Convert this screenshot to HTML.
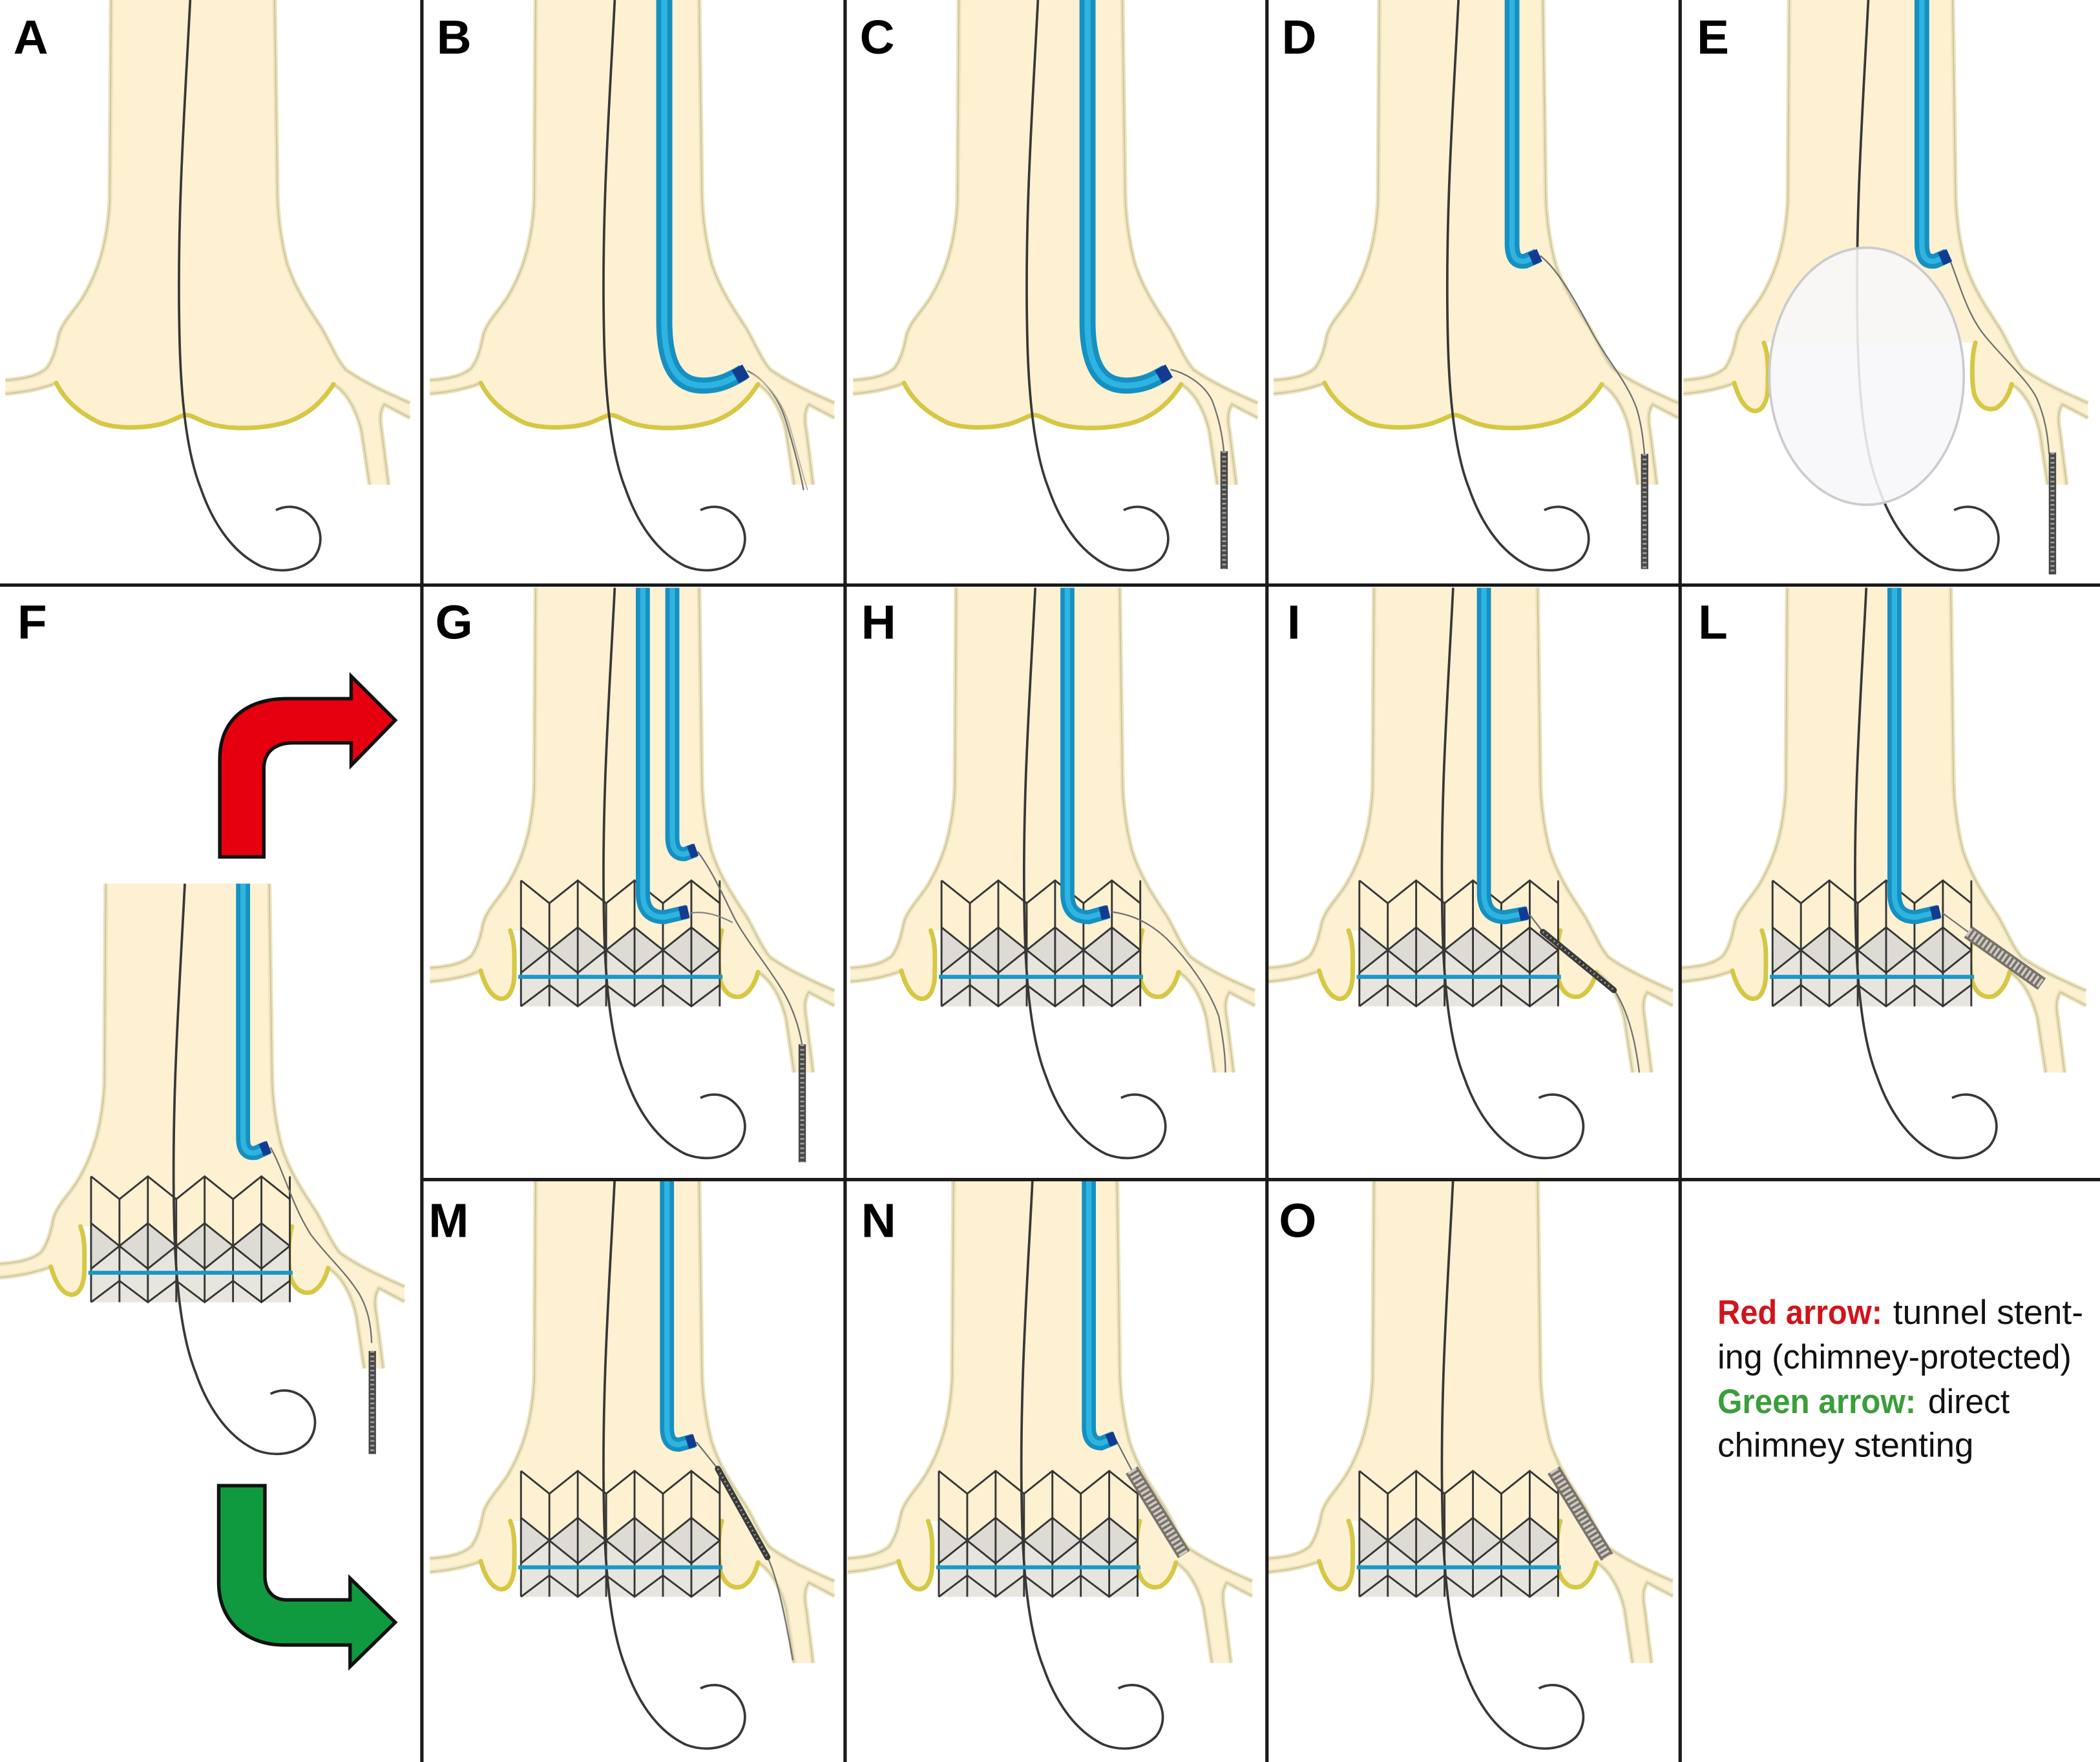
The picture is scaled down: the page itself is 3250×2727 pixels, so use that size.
<!DOCTYPE html>
<html><head><meta charset="utf-8">
<style>
html,body{margin:0;padding:0;background:#fff;}
svg{display:block;}
</style></head>
<body>
<svg xmlns="http://www.w3.org/2000/svg" width="3250" height="2727" viewBox="0 0 1568 1316" preserveAspectRatio="none">
<defs>
  <path id="vfull" d="M83 0 L82 150 C80 185 72 205 62 222 C55 233 47 240 44 250 C42 260 40 268 35 275 C28 281 18 283 4 284 L4 294 C18 293 32 290 42 286 C48 298 58 308 75 316 C90 321 115 320 128 314 C133 312 136 310 139 310 C143 310 147 313 155 316 C170 321 195 321 215 315 C232 309 242 298 249 287 C258 292 266 305 270 322 L276 362 L290 362 L285 322 C283 312 284 306 287 302 L306 312 L306 301 C290 294 272 286 258 276 C251 268 246 255 240 245 C230 230 220 215 214 196 C210 180 207 160 207 140 L205 0 Z"/>
  <path id="vlobe" d="M83 0 L82 150 C80 185 72 205 62 222 C55 233 47 240 44 250 C42 260 40 268 35 275 C28 281 18 283 4 284 L4 294 C18 293 32 290 42 286 C45 297 50 306 57 307 C64 307 67 298 67 288 C67 278 68 266 64 256 L222 256 C219 266 219 284 221 294 C224 303 230 307 237 305 C243 302 247 295 249 287 C258 292 266 305 270 322 L276 362 L290 362 L285 322 C283 312 284 306 287 302 L306 312 L306 301 C290 294 272 286 258 276 C251 268 246 255 240 245 C230 230 220 215 214 196 C210 180 207 160 207 140 L205 0 Z"/>
  <path id="walls" d="M83 0 L82 150 C80 185 72 205 62 222 C55 233 47 240 44 250 C42 260 40 268 35 275 C28 281 18 283 4 284 M4 294 C18 293 32 290 42 286 M249 287 C258 292 266 305 270 322 L276 362 M290 362 L285 322 C283 312 284 306 287 302 L306 312 M306 301 C290 294 272 286 258 276 C251 268 246 255 240 245 C230 230 220 215 214 196 C210 180 207 160 207 140 L205 0"/>
  <path id="yfull" d="M42 286 C48 298 58 308 75 316 C90 321 115 320 128 314 C133 312 136 310 139 310 C143 310 147 313 155 316 C170 321 195 321 215 315 C232 309 242 298 249 287"/>
  <path id="ylobes" d="M42 286 C45 297 50 306 57 307 C64 307 67 298 67 288 C67 278 68 266 64 256 M222 256 C219 266 219 284 221 294 C224 303 230 307 237 305 C243 302 247 295 249 287"/>
  <path id="gw" d="M142 0 C138 80 132 160 134 250 C135 300 140 340 150 365 C158 388 172 412 195 423 C208 428 224 427 234 417 C243 406 240 390 228 382 C220 377 212 378 206 381"/>

  <g id="vesFull">
    <use href="#vfull" fill="#fdf1d2"/>
    <use href="#walls" fill="none" stroke="#ede4bb" stroke-width="3.5"/>
    <use href="#walls" fill="none" stroke="#cdc6a6" stroke-width="1"/>
    <use href="#yfull" fill="none" stroke="#d6c744" stroke-width="3.4" stroke-linecap="round"/>
  </g>
  <g id="vesLobe">
    <use href="#vlobe" fill="#fdf1d2"/>
    <use href="#walls" fill="none" stroke="#ede4bb" stroke-width="3.5"/>
    <use href="#walls" fill="none" stroke="#cdc6a6" stroke-width="1"/>
    <use href="#ylobes" fill="none" stroke="#d6c744" stroke-width="3.4" stroke-linecap="round"/>
  </g>
  <g id="gwU"><use href="#gw" fill="none" stroke="#383838" stroke-width="1.8"/></g>

  <g id="stentFill">
    <rect x="72" y="218.6" width="148.4" height="94" fill="#fdf1d2"/>
    <rect x="72" y="270.6" width="148.4" height="42" fill="#e8e5df"/>
    <path d="M72 253.6 L93.2 270.6 L72 287.6Z M114.4 253.6 L135.6 270.6 L114.4 287.6 L93.2 270.6Z M156.8 253.6 L178 270.6 L156.8 287.6 L135.6 270.6Z M199.2 253.6 L220.4 270.6 L199.2 287.6 L178 270.6Z" fill="#dedbd5"/>
  </g>
  <g id="stentLines">
    <g fill="none" stroke="#363636" stroke-width="1.4">
      <path d="M72 218.6 L72 312.6 M93.2 235.6 L93.2 312.6 M114.4 218.6 L114.4 312.6 M135.6 235.6 L135.6 312.6 M156.8 218.6 L156.8 312.6 M178 235.6 L178 312.6 M199.2 218.6 L199.2 312.6 M220.4 218.6 L220.4 312.6"/>
      <path d="M72 218.6 L93.2 235.6 L114.4 218.6 L135.6 235.6 L156.8 218.6 L178 235.6 L199.2 218.6 L220.4 235.6"/>
      <path d="M72 253.6 L114.4 287.6 L156.8 253.6 L199.2 287.6 L220.4 270.6"/>
      <path d="M72 287.6 L114.4 253.6 L156.8 287.6 L199.2 253.6 L220.4 270.6"/>
      <path d="M72 312.6 L93.2 296.6 L114.4 312.6 L135.6 296.6 L156.8 312.6 L178 296.6 L199.2 312.6 L220.4 296.6"/>
    </g>
    <path d="M70 290.6 L222.5 290.6" stroke="#1a98c6" stroke-width="3"/>
  </g>

  <path id="cLong" d="M179 0 L179 240 C179 272 188 288 208 288 C220 288 228 284 238 278"/>
  <path id="cShort" d="M182 0 L182 182 C182 192 185 196 192 195 L201 191"/>
  <path id="cG1" d="M163 0 L163 228 C163 241 169 246 179 246 L196 242"/>
  <path id="cG2" d="M185 0 L185 186 C185 195 188 199 194 199 L202 196"/>
  <path id="cH" d="M166 0 L166 228 C166 241 172 246 182 246 L196 242"/>
  <path id="cI" d="M165 0 L165 228 C165 241 171 246 181 246 L197 243"/>
  <path id="cM" d="M181 0 L181 186 C181 195 184 199 190 199 L201 196"/>
  <path id="cN" d="M184 0 L184 186 C184 194 187 198 193 198 L203 194"/>
  <path id="cF" d="M185.5 0 L185.5 190 C185.5 199 189 202 195 201 L204 197"/>

  <clipPath id="cA"><rect x="0" y="0" width="315" height="437"/></clipPath>
  <clipPath id="cB"><rect x="315" y="0" width="316" height="437"/></clipPath>
  <clipPath id="cC"><rect x="631" y="0" width="315" height="437"/></clipPath>
  <clipPath id="cD"><rect x="946" y="0" width="308.5" height="437"/></clipPath>
  <clipPath id="cE"><rect x="1254.5" y="0" width="313.5" height="437"/></clipPath>
  <clipPath id="cF"><rect x="0" y="665" width="315" height="651"/></clipPath>
  <clipPath id="cG"><rect x="315" y="437" width="316" height="444"/></clipPath>
  <clipPath id="cH"><rect x="631" y="437" width="315" height="444"/></clipPath>
  <clipPath id="cI"><rect x="946" y="437" width="308.5" height="444"/></clipPath>
  <clipPath id="cL"><rect x="1254.5" y="437" width="313.5" height="444"/></clipPath>
  <clipPath id="cM"><rect x="315" y="881" width="316" height="435"/></clipPath>
  <clipPath id="cN"><rect x="631" y="881" width="315" height="435"/></clipPath>
  <clipPath id="cO"><rect x="946" y="881" width="308.5" height="435"/></clipPath>
</defs>

<rect x="0" y="0" width="1568" height="1316" fill="#ffffff"/>

<!-- A -->
<g clip-path="url(#cA)"><g transform="translate(0,0)">
  <use href="#vesFull"/>
  <use href="#gwU"/>
</g></g>

<!-- B -->
<g clip-path="url(#cB)"><g transform="translate(317,0)">
  <use href="#vesFull"/>
  <use href="#gwU"/>
  <path d="M241 277 C252 282 264 295 270 315 C276 335 280 350 283 366" fill="none" stroke="#707070" stroke-width="1.1"/>
  <path d="M244 279 C255 285 266 298 272 316 C277 333 281 350 286 366" fill="none" stroke="#b8b2a0" stroke-width="0.9"/>
  <use href="#cLong" fill="none" stroke="#1590c0" stroke-width="12"/>
  <use href="#cLong" fill="none" stroke="#2fb4e1" stroke-width="4.5"/>
  <path d="M232 281.5 L240 277" stroke="#123c90" stroke-width="11"/>
</g></g>

<!-- C -->
<g clip-path="url(#cC)"><g transform="translate(633,0)">
  <use href="#vesFull"/>
  <use href="#gwU"/>
  <path d="M241 276 C250 278 265 285 272 299 C277 312 280 325 281 340" fill="none" stroke="#707070" stroke-width="1.1"/>
  <path d="M281 337 L281 425" stroke="#484848" stroke-width="5.5"/>
  <path d="M281 337 L281 425" stroke="#9e9e9e" stroke-width="3" stroke-dasharray="1.3 2.2"/>
  <use href="#cLong" fill="none" stroke="#1590c0" stroke-width="12"/>
  <use href="#cLong" fill="none" stroke="#2fb4e1" stroke-width="4.5"/>
  <path d="M232 281.5 L240 277" stroke="#123c90" stroke-width="11"/>
</g></g>

<!-- D -->
<g clip-path="url(#cD)"><g transform="translate(947,0)">
  <use href="#vesFull"/>
  <use href="#gwU"/>
  <path d="M203 191 C215 200 228 222 240 245 C252 268 268 285 275 305 C279 318 280 330 281 340" fill="none" stroke="#707070" stroke-width="1.1"/>
  <path d="M281 339 L281 425" stroke="#484848" stroke-width="5.5"/>
  <path d="M281 339 L281 425" stroke="#9e9e9e" stroke-width="3" stroke-dasharray="1.3 2.2"/>
  <use href="#cShort" fill="none" stroke="#1590c0" stroke-width="11"/>
  <use href="#cShort" fill="none" stroke="#2fb4e1" stroke-width="4"/>
  <path d="M196 193.5 L202.5 190.6" stroke="#123c90" stroke-width="10"/>
</g></g>

<!-- E -->
<g clip-path="url(#cE)"><g transform="translate(1253,0)">
  <use href="#vesLobe"/>
  <use href="#gwU"/>
  <ellipse cx="140.7" cy="281" rx="72.6" ry="96" fill="#f7f7f9" fill-opacity="0.88" stroke="#cbcbcf" stroke-width="1.8"/>
  <path d="M202 192 C208 205 215 235 230 252 C245 270 262 285 268 298 C274 312 276 325 277 339" fill="none" stroke="#707070" stroke-width="1.1"/>
  <path d="M279.5 338 L279.5 429" stroke="#484848" stroke-width="5.5"/>
  <path d="M279.5 338 L279.5 429" stroke="#9e9e9e" stroke-width="3" stroke-dasharray="1.3 2.2"/>
  <use href="#cShort" fill="none" stroke="#1590c0" stroke-width="11"/>
  <use href="#cShort" fill="none" stroke="#2fb4e1" stroke-width="4"/>
  <path d="M196 193.5 L202.5 190.6" stroke="#123c90" stroke-width="10"/>
</g></g>

<!-- F -->
<g clip-path="url(#cF)"><g transform="translate(-4,660)">
  <use href="#vesLobe"/>
  <use href="#stentFill"/>
  <use href="#gwU"/>
  <use href="#stentLines"/>
  <path d="M206 197 C216 215 222 240 236 262 C248 278 262 290 272 306 C279 318 281 330 281.5 343" fill="none" stroke="#707070" stroke-width="1.1"/>
  <path d="M282 349 L282 426" stroke="#484848" stroke-width="5.5"/>
  <path d="M282 349 L282 426" stroke="#9e9e9e" stroke-width="3" stroke-dasharray="1.3 2.2"/>
  <use href="#cF" fill="none" stroke="#1590c0" stroke-width="10.5"/>
  <use href="#cF" fill="none" stroke="#2fb4e1" stroke-width="4"/>
  <path d="M199 199 L205 196.6" stroke="#123c90" stroke-width="9.5"/>
</g></g>

<!-- G -->
<g clip-path="url(#cG)"><g transform="translate(317,439)">
  <use href="#vesLobe"/>
  <use href="#stentFill"/>
  <use href="#gwU"/>
  <use href="#stentLines"/>
  <path d="M204 197 C215 212 222 228 232 248 C242 266 256 282 268 302 C276 316 280 330 282 342" fill="none" stroke="#707070" stroke-width="1.1"/>
  <path d="M198 243 C210 241 220 245 230 250" fill="none" stroke="#808080" stroke-width="1"/>
  <path d="M282 341 L282 429" stroke="#484848" stroke-width="5.5"/>
  <path d="M282 341 L282 429" stroke="#9e9e9e" stroke-width="3" stroke-dasharray="1.3 2.2"/>
  <use href="#cG1" fill="none" stroke="#1590c0" stroke-width="10.5"/>
  <use href="#cG1" fill="none" stroke="#2fb4e1" stroke-width="4"/>
  <path d="M190.5 243.3 L197 241.8" stroke="#123c90" stroke-width="9.5"/>
  <use href="#cG2" fill="none" stroke="#1590c0" stroke-width="10.5"/>
  <use href="#cG2" fill="none" stroke="#2fb4e1" stroke-width="4"/>
  <path d="M197.5 197.6 L203 195.6" stroke="#123c90" stroke-width="9.5"/>
</g></g>

<!-- H -->
<g clip-path="url(#cH)"><g transform="translate(631,439)">
  <use href="#vesLobe"/>
  <use href="#stentFill"/>
  <use href="#gwU"/>
  <use href="#stentLines"/>
  <path d="M199 242 C212 244 225 248 240 262 C256 278 272 300 279 320 C282 335 284 350 284 362" fill="none" stroke="#707070" stroke-width="1.1"/>
  <use href="#cH" fill="none" stroke="#1590c0" stroke-width="10.5"/>
  <use href="#cH" fill="none" stroke="#2fb4e1" stroke-width="4"/>
  <path d="M190.5 243.3 L197 241.8" stroke="#123c90" stroke-width="9.5"/>
</g></g>

<!-- I -->
<g clip-path="url(#cI)"><g transform="translate(943,439)">
  <use href="#vesLobe"/>
  <use href="#stentFill"/>
  <use href="#gwU"/>
  <use href="#stentLines"/>
  <path d="M199 244 L209 257" fill="none" stroke="#707070" stroke-width="1.1"/>
  <path d="M262 300 C270 312 277 330 281 362" fill="none" stroke="#707070" stroke-width="1.1"/>
  <path d="M209 257 L262 300.5" stroke="#3a3a3a" stroke-width="4.5" stroke-linecap="round"/>
  <path d="M209 257 L262 300.5" stroke="#9a9a9a" stroke-width="1.6" stroke-dasharray="1 2.5"/>
  <use href="#cI" fill="none" stroke="#1590c0" stroke-width="10.5"/>
  <use href="#cI" fill="none" stroke="#2fb4e1" stroke-width="4"/>
  <path d="M191.5 244.3 L198 242.8" stroke="#123c90" stroke-width="9.5"/>
</g></g>

<!-- L -->
<g clip-path="url(#cL)"><g transform="translate(1251.5,439)">
  <use href="#vesLobe"/>
  <use href="#stentFill"/>
  <use href="#gwU"/>
  <use href="#stentLines"/>
  <path d="M199 243 L218 257" fill="none" stroke="#707070" stroke-width="1.1"/>
  <path d="M218 257 L273 296" stroke="#77736c" stroke-width="10.5"/>
  <path d="M218 257 L273 296" stroke="#cfcbc2" stroke-width="7" stroke-dasharray="1.8 1.8"/>
  <use href="#cG1" fill="none" stroke="#1590c0" stroke-width="10.5"/>
  <use href="#cG1" fill="none" stroke="#2fb4e1" stroke-width="4"/>
  <path d="M190.5 243.3 L197 241.8" stroke="#123c90" stroke-width="9.5"/>
</g></g>

<!-- M -->
<g clip-path="url(#cM)"><g transform="translate(317,880)">
  <use href="#vesLobe"/>
  <use href="#stentFill"/>
  <use href="#gwU"/>
  <use href="#stentLines"/>
  <path d="M203 197 L219 217" fill="none" stroke="#707070" stroke-width="1.1"/>
  <path d="M256 283 C262 295 268 320 275 360" fill="none" stroke="#707070" stroke-width="1.1"/>
  <path d="M219 217 L256 283" stroke="#3a3a3a" stroke-width="4.5" stroke-linecap="round"/>
  <path d="M219 217 L256 283" stroke="#9a9a9a" stroke-width="1.6" stroke-dasharray="1 2.5"/>
  <use href="#cM" fill="none" stroke="#1590c0" stroke-width="10.5"/>
  <use href="#cM" fill="none" stroke="#2fb4e1" stroke-width="4"/>
  <path d="M196 197.6 L202 195.6" stroke="#123c90" stroke-width="9.5"/>
</g></g>

<!-- N -->
<g clip-path="url(#cN)"><g transform="translate(629,880)">
  <use href="#vesLobe"/>
  <use href="#stentFill"/>
  <use href="#gwU"/>
  <use href="#stentLines"/>
  <path d="M204 195 L216 218" fill="none" stroke="#707070" stroke-width="1.1"/>
  <path d="M216 218 L255 281" stroke="#77736c" stroke-width="10.5"/>
  <path d="M216 218 L255 281" stroke="#cfcbc2" stroke-width="7" stroke-dasharray="1.8 1.8"/>
  <use href="#cN" fill="none" stroke="#1590c0" stroke-width="10.5"/>
  <use href="#cN" fill="none" stroke="#2fb4e1" stroke-width="4"/>
  <path d="M198 196 L204 193.6" stroke="#123c90" stroke-width="9.5"/>
</g></g>

<!-- O -->
<g clip-path="url(#cO)"><g transform="translate(943,880)">
  <use href="#vesLobe"/>
  <use href="#stentFill"/>
  <use href="#gwU"/>
  <use href="#stentLines"/>
  <path d="M217 218 L257 283" stroke="#77736c" stroke-width="10.5"/>
  <path d="M217 218 L257 283" stroke="#cfcbc2" stroke-width="7" stroke-dasharray="1.8 1.8"/>
</g></g>

<!-- ARROWS -->
<path d="M164.1 640 L164.1 567 C164.1 537 185 521.8 214 521.8 L262.2 521.8 L262.2 505 L295.1 537.9 L262.2 571.7 L262.2 554.8 L219 554.8 C205 554.8 197 562 197 574 L197 640 Z" fill="#e6000f" stroke="#111" stroke-width="2.6" stroke-linejoin="miter"/>
<path d="M163.3 1109.6 L197.8 1109.6 L197.8 1177 C197.8 1188 204 1194.9 214 1194.9 L261.4 1194.9 L261.4 1178.8 L295.1 1211.7 L261.4 1244.7 L261.4 1228.6 L212 1228.6 C183 1228.6 163.3 1210 163.3 1182 Z" fill="#0f9a40" stroke="#111" stroke-width="2.6" stroke-linejoin="miter"/>

<!-- GRID LINES -->
<g stroke="#1a1a1a" stroke-width="2.5">
  <line x1="315" y1="0" x2="315" y2="1316"/>
  <line x1="631" y1="0" x2="631" y2="1316"/>
  <line x1="946" y1="0" x2="946" y2="1316"/>
  <line x1="1254.5" y1="0" x2="1254.5" y2="1316"/>
  <line x1="0" y1="437" x2="1568" y2="437"/>
  <line x1="315" y1="881" x2="1568" y2="881"/>
</g>

<!-- PANEL LABELS -->
<g font-family="'Liberation Sans', Arial, sans-serif" font-weight="bold" font-size="36" fill="#000">
  <text x="10" y="40">A</text>
  <text x="326" y="40">B</text>
  <text x="642" y="40">C</text>
  <text x="957" y="40">D</text>
  <text x="1267" y="40">E</text>
  <text x="13" y="477">F</text>
  <text x="325" y="477">G</text>
  <text x="643" y="477">H</text>
  <text x="961" y="477">I</text>
  <text x="1268" y="477">L</text>
  <text x="320" y="924">M</text>
  <text x="643" y="924">N</text>
  <text x="955" y="924">O</text>
</g>

<!-- LEGEND -->
<g font-family="'Liberation Sans', Arial, sans-serif" font-size="25.5">
  <text x="1282.4" y="988.7" font-weight="bold" fill="#d0141c" textLength="123" lengthAdjust="spacingAndGlyphs">Red arrow:</text>
  <text x="1413.5" y="988.7" fill="#111" textLength="142" lengthAdjust="spacingAndGlyphs">tunnel stent-</text>
  <text x="1282.4" y="1022" fill="#111" textLength="264.3" lengthAdjust="spacingAndGlyphs">ing (chimney-protected)</text>
  <text x="1282.4" y="1055.3" font-weight="bold" fill="#3a9e3a" textLength="148.2" lengthAdjust="spacingAndGlyphs">Green arrow:</text>
  <text x="1439.6" y="1055.3" fill="#111" textLength="61" lengthAdjust="spacingAndGlyphs">direct</text>
  <text x="1282.4" y="1087.9" fill="#111" textLength="191.2" lengthAdjust="spacingAndGlyphs">chimney stenting</text>
</g>
</svg>
</body></html>
